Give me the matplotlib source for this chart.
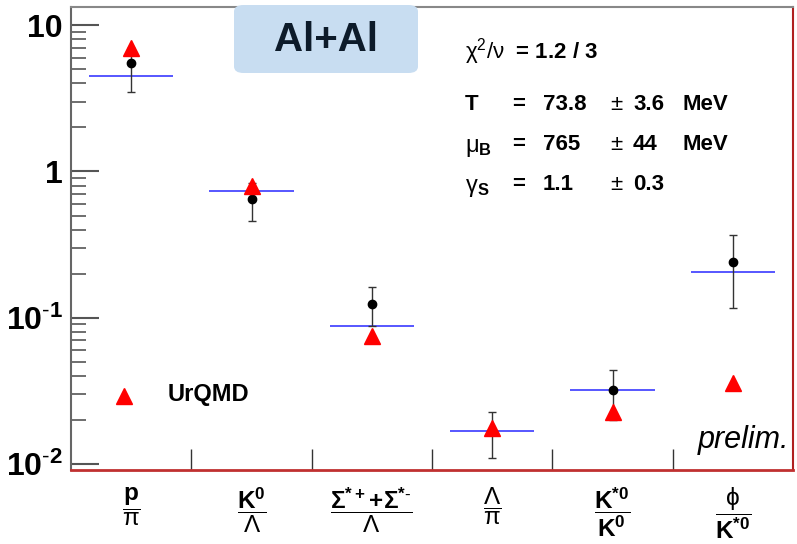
import numpy as np
import matplotlib
matplotlib.use('Agg')
import matplotlib.pyplot as plt
from matplotlib.patches import FancyBboxPatch
from matplotlib.ticker import LogLocator, NullFormatter, FixedLocator

plt.rcParams['font.family'] = ['Liberation Sans', 'DejaVu Sans']
plt.rcParams['mathtext.fontset'] = 'custom'
plt.rcParams['mathtext.rm'] = 'Liberation Sans'
plt.rcParams['mathtext.bf'] = 'Liberation Sans:bold'
plt.rcParams['mathtext.it'] = 'Liberation Sans:italic'

# ratio labels
labels = [r'$\dfrac{\mathbf{p}}{\mathrm{\pi}}$',
          r'$\dfrac{\mathbf{K^0}}{\mathrm{\Lambda}}$',
          r'$\dfrac{\mathbf{\Sigma^{*+}\!+\!\Sigma^{*\text{-}}}}{\mathrm{\Lambda}}$',
          r'$\dfrac{\mathrm{\Lambda}}{\mathrm{\pi}}$',
          r'$\dfrac{\mathbf{K^{*0}}}{\mathbf{K^0}}$',
          r'$\dfrac{\mathrm{\phi}}{\mathbf{K^{*0}}}$']

# measured ratios with asymmetric errors
data_val = [5.5, 0.645, 0.125, 0.0169, 0.032, 0.242]
data_lo = [3.5, 0.456, 0.088, 0.011, 0.020, 0.117]
data_hi = [7.0, 0.83, 0.163, 0.0226, 0.0438, 0.369]
# statistical model fit
fit_val = [4.5, 0.73, 0.088, 0.0169, 0.032, 0.204]
# UrQMD
urqmd_val = [7.0, 0.79, 0.0754, 0.0176, 0.0228, 0.036]

x = np.arange(len(labels))

fig = plt.figure(figsize=(7.97, 5.44), dpi=100)
ax = fig.add_axes([0.0891, 0.136, 0.906, 0.851])

ax.hlines(fit_val, x - 0.35, x + 0.35, color='#3a3aff', linewidth=1.2, zorder=2)
yerr = [np.array(data_val) - np.array(data_lo), np.array(data_hi) - np.array(data_val)]
ax.errorbar(x, data_val, yerr=yerr, fmt='o', color='black', markersize=6,
            elinewidth=1.0, capsize=3, capthick=1.0, ecolor='#333333', zorder=3)
ax.plot(x, urqmd_val, '^', color='red', markersize=11, linestyle='none', zorder=4)

ax.set_yscale('log')
ax.set_ylim(0.0091, 13.3)
ax.set_xlim(-0.5, 5.5)

ax.yaxis.set_minor_locator(LogLocator(base=10, subs=np.arange(2, 10), numticks=20))
ax.yaxis.set_minor_formatter(NullFormatter())
ax.set_yticks([0.01, 0.1, 1, 10])
ax.set_yticklabels([r'$\mathbf{10^{\text{-}2}}$', r'$\mathbf{10^{\text{-}1}}$', '1', '10'],
                   fontsize=23, fontweight='bold')
ax.tick_params(axis='y', which='major', direction='in', length=20, width=1.5,
               color='#555555', pad=6)
ax.tick_params(axis='y', which='minor', direction='in', length=11, width=1.2,
               color='#555555')

ax.xaxis.set_major_locator(FixedLocator(x[:-1] + 0.5))
ax.xaxis.set_major_formatter(NullFormatter())
ax.set_xticks(x, labels, minor=True)
ax.tick_params(axis='x', which='major', direction='in', length=15, width=1.0,
               color='#333333')
ax.tick_params(axis='x', which='minor', length=0, labelsize=17.5, pad=11)

ax.spines['left'].set_color('#666666')
ax.spines['left'].set_linewidth(1.5)
ax.spines['top'].set_color('#888888')
ax.spines['top'].set_linewidth(1.5)
ax.spines['right'].set_color('#b02020')
ax.spines['right'].set_linewidth(1.5)
ax.spines['bottom'].set_color('#c03030')
ax.spines['bottom'].set_linewidth(2.0)

# Al+Al box
box = FancyBboxPatch((234 / 797, 1 - 73 / 544), 184 / 797, 68 / 544,
                     boxstyle='round,pad=0,rounding_size=0.012',
                     transform=fig.transFigure, facecolor='#c8ddf1',
                     edgecolor='none', zorder=5)
fig.patches.append(box)
fig.text(326 / 797, 1 - 40 / 544, 'Al+Al', fontsize=29, fontweight='bold',
         color='#0d1b2a', ha='center', va='center', zorder=6)

# fit parameters
tx = 465 / 797
fig.text(tx, 1 - 52 / 544, r'$\mathrm{\chi^2/\nu}$  = 1.2 / 3', fontsize=16,
         fontweight='bold', va='center')
fig.text(tx, 1 - 105 / 544, 'T', fontsize=16, fontweight='bold', va='center')
fig.text(tx, 1 - 148 / 544, r'$\mathrm{\mu}_{\mathbf{B}}$', fontsize=17, va='center')
fig.text(tx, 1 - 188 / 544, r'$\mathrm{\gamma}_{\mathbf{S}}$', fontsize=17, va='center')
rows = [('=', '73.8', '3.6', 'MeV', 105),
        ('=', '765', '44', 'MeV', 145),
        ('=', '1.1', '0.3', '', 185)]
for eq, v, e, u, yy in rows:
    fig.text(512 / 797, 1 - yy / 544, eq, fontsize=16, fontweight='bold', va='center')
    fig.text(543 / 797, 1 - yy / 544, v, fontsize=16, fontweight='bold', va='center')
    fig.text(610 / 797, 1 - yy / 544, r'$\pm$', fontsize=16, va='center')
    fig.text(633 / 797, 1 - yy / 544, e, fontsize=16, fontweight='bold', va='center')
    if u:
        fig.text(683 / 797, 1 - yy / 544, u, fontsize=16, fontweight='bold', va='center')

# legend
ax.plot([124 / 797], [1 - 396 / 544], '^', color='red', markersize=11,
        transform=fig.transFigure, clip_on=False)
fig.text(168 / 797, 1 - 395 / 544, 'UrQMD', fontsize=17, fontweight='bold',
         va='center')

fig.text(789 / 797, 1 - 440 / 544, 'prelim.', fontsize=22, style='italic',
         ha='right', va='center')

fig.savefig('out.png', dpi=100)
